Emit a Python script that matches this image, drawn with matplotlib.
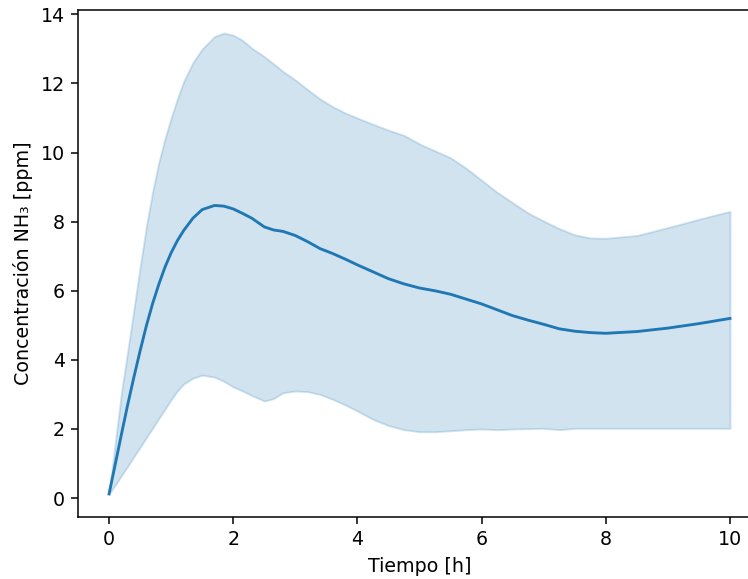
import matplotlib
matplotlib.use("Agg")
import matplotlib.pyplot as plt
import numpy as np

# Tiempo [h]
tiempo = [0, 0.1, 0.2, 0.3, 0.4, 0.5, 0.6, 0.7, 0.8, 0.9, 1.0, 1.1, 1.2, 1.35, 1.5,
          1.7, 1.85, 2.0, 2.15, 2.3, 2.5, 2.65, 2.8, 3.0, 3.2, 3.4, 3.6, 3.8, 4.0,
          4.25, 4.5, 4.75, 5.0, 5.25, 5.5, 5.75, 6.0, 6.25, 6.5, 6.75, 7.0, 7.25,
          7.5, 7.75, 8.0, 8.5, 9.0, 9.5, 10.0]

# mean NH3 concentration [ppm]
media = [0.12, 0.98, 1.85, 2.7, 3.5, 4.26, 4.98, 5.62, 6.18, 6.68, 7.1, 7.45, 7.74, 8.1, 8.35,
         8.47, 8.45, 8.37, 8.24, 8.1, 7.85, 7.76, 7.72, 7.6, 7.42, 7.22, 7.08, 6.92, 6.75,
         6.55, 6.35, 6.2, 6.08, 6.0, 5.9, 5.76, 5.62, 5.45, 5.28, 5.15, 5.03, 4.9,
         4.83, 4.79, 4.77, 4.82, 4.92, 5.05, 5.2]

# band limits
superior = [0.12, 1.6, 3.05, 4.25, 5.45, 6.68, 7.85, 8.85, 9.7, 10.4, 11.0, 11.55, 12.05, 12.6, 13.0,
            13.36, 13.46, 13.4, 13.25, 13.02, 12.78, 12.57, 12.35, 12.1, 11.82, 11.55, 11.33, 11.15, 11.0,
            10.82, 10.65, 10.5, 10.25, 10.05, 9.85, 9.55, 9.2, 8.85, 8.55, 8.25, 8.02, 7.8,
            7.62, 7.53, 7.52, 7.6, 7.83, 8.07, 8.3]
inferior = [0.12, 0.38, 0.65, 0.92, 1.2, 1.47, 1.75, 2.02, 2.3, 2.57, 2.85, 3.1, 3.3, 3.47, 3.56,
            3.5, 3.38, 3.22, 3.1, 2.97, 2.81, 2.88, 3.05, 3.1, 3.08, 3.0, 2.86, 2.7, 2.52,
            2.28, 2.1, 1.98, 1.92, 1.92, 1.95, 1.98, 2.0, 1.98, 2.0, 2.01, 2.02, 1.98,
            2.02, 2.02, 2.02, 2.02, 2.02, 2.02, 2.02]

dpi = 137
fig = plt.figure(figsize=(748/dpi, 579/dpi), dpi=dpi)
ax = fig.add_axes([78/748, 62/579, 683/748, 507/579])

ax.plot(tiempo, media, color="C0")
ax.fill_between(tiempo, inferior, superior, color="C0", alpha=0.2)

ax.set_xlabel("Tiempo [h]")
ax.set_ylabel("Concentración NH₃ [ppm]")

fig.savefig("out.png", dpi=dpi)
